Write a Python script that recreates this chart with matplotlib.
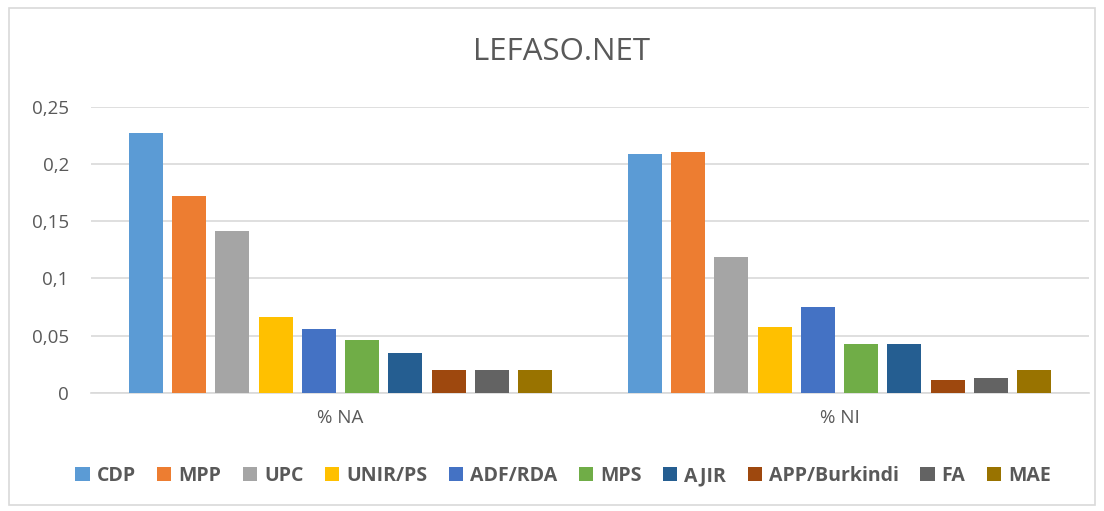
import matplotlib
matplotlib.use("Agg")
import matplotlib.pyplot as plt
import numpy as np
from matplotlib.patches import Rectangle
from matplotlib.ticker import FuncFormatter

categories = ["% NA", "% NI"]
parties = ["CDP", "MPP", "UPC", "UNIR/PS", "ADF/RDA", "MPS", "AJIR", "APP/Burkindi", "FA", "MAE"]
values_na = [0.227, 0.172, 0.141, 0.066, 0.056, 0.046, 0.035, 0.020, 0.020, 0.020]
values_ni = [0.209, 0.210, 0.119, 0.057, 0.075, 0.043, 0.043, 0.011, 0.013, 0.020]
colors = ["#5B9BD5", "#ED7D31", "#A5A5A5", "#FFC000", "#4472C4",
          "#70AD47", "#255E91", "#9E480E", "#636363", "#997300"]
yticks = [0, 0.05, 0.1, 0.15, 0.2, 0.25]

plt.rcParams['font.family'] = ['Open Sans', 'DejaVu Sans']
txt = "#595959"

fig = plt.figure(figsize=(11.04, 5.11), dpi=100)
fig.patches.append(Rectangle((9/1104, 1 - 505/511), 1 - 18/1104, 497/511,
                             transform=fig.transFigure, fill=False,
                             edgecolor="#D9D9D9", linewidth=1.2))
ax = fig.add_axes([91/1104, 1 - 392.7/511, (1089 - 91)/1104, (392.7 - 106.7)/511])

x = np.arange(len(categories))
step = 0.0867
width = 0.068
n = len(parties)
for i, (p, c) in enumerate(zip(parties, colors)):
    off = (i - (n - 1) / 2) * step
    ax.bar(x + off, [values_na[i], values_ni[i]], width=width, color=c,
           label=p, zorder=3)

ax.set_xlim(-0.5, 1.5)
ax.set_ylim(0, 0.25)
ax.set_yticks(yticks)
ax.yaxis.set_major_formatter(FuncFormatter(lambda v, _: ("%g" % v).replace(".", ",")))
ax.set_xticks(x)
ax.set_xticklabels(categories)
ax.tick_params(axis='both', length=0, colors=txt, labelsize=13.5)
ax.tick_params(axis='y', pad=16)
ax.tick_params(axis='x', pad=12)
ax.grid(axis='y', color="#D9D9D9", linewidth=1.2, zorder=0)
for s in ["top", "right", "left"]:
    ax.spines[s].set_visible(False)
ax.spines["bottom"].set_color("#D9D9D9")
ax.spines["bottom"].set_linewidth(1.2)

fig.text(562/1104, 1 - 52/511, "LEFASO.NET", ha="center", va="center",
         fontsize=22.5, color=txt)

leg = fig.legend(loc="center", bbox_to_anchor=(563/1104, 1 - 476/511), ncol=n,
                 frameon=False, handlelength=0.75, handleheight=0.75,
                 handletextpad=0.35, columnspacing=1.1,
                 prop={"weight": "bold", "size": 14})
for t in leg.get_texts():
    t.set_color(txt)

fig.savefig("out.png", dpi=100, facecolor="white")
